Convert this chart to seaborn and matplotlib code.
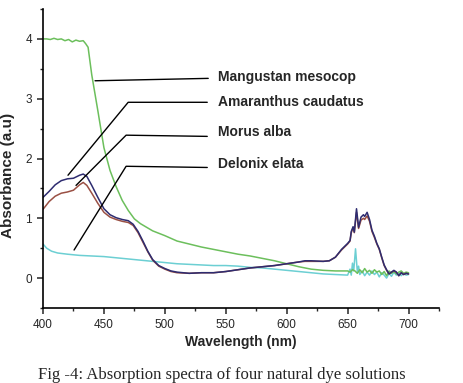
import matplotlib
matplotlib.use("Agg")
import matplotlib.pyplot as plt
import seaborn as sns
from matplotlib.ticker import MultipleLocator

# Mangustan mesocop (green)
mangustan_wl = [400, 403, 406, 409, 412, 415, 418, 421, 424, 427, 430, 433, 435, 437,
                440, 445, 450, 455, 460, 465, 470, 475, 480, 490, 500, 510, 520, 530,
                540, 550, 560, 570, 580, 590, 600, 610, 620, 630, 640, 650, 652, 654,
                656, 658, 660, 662, 664, 666, 668, 670, 672, 674, 676, 678, 680, 682,
                684, 686, 688, 690, 692, 694, 696, 698, 700]
mangustan_abs = [4.00, 4.00, 3.99, 4.01, 3.99, 4.00, 3.97, 3.99, 3.95, 3.98, 3.96, 3.97, 3.92, 3.86,
                 3.40, 2.80, 2.18, 1.80, 1.53, 1.30, 1.13, 0.99, 0.91, 0.79, 0.71, 0.62, 0.57, 0.52,
                 0.48, 0.44, 0.40, 0.37, 0.33, 0.29, 0.24, 0.19, 0.15, 0.13, 0.12, 0.12, 0.10, 0.14,
                 0.12, 0.08, 0.14, 0.09, 0.16, 0.10, 0.13, 0.08, 0.14, 0.10, 0.12, 0.06, 0.11, 0.04,
                 0.12, 0.08, 0.11, 0.07, 0.10, 0.12, 0.08, 0.10, 0.09]

# Amaranthus caudatus (navy)
amaranthus_wl = [400, 405, 410, 415, 420, 425, 430, 433, 436, 440, 445, 450, 455, 460,
                 465, 470, 474, 478, 482, 486, 490, 495, 500, 505, 510, 520, 530, 540,
                 550, 560, 570, 580, 590, 600, 610, 615, 620, 630, 635, 640, 645, 650,
                 652, 653, 654.5, 655.5, 657.3, 659, 661, 663, 664, 666, 668, 670, 672,
                 674, 676, 678, 680, 682, 684, 686, 688, 690, 692, 694, 696, 698, 700]
amaranthus_abs = [1.35, 1.45, 1.56, 1.63, 1.66, 1.67, 1.72, 1.74, 1.70, 1.55, 1.35, 1.16, 1.06, 1.01,
                  0.98, 0.96, 0.90, 0.78, 0.62, 0.45, 0.31, 0.21, 0.16, 0.12, 0.10, 0.08, 0.09, 0.09,
                  0.11, 0.14, 0.17, 0.19, 0.21, 0.24, 0.27, 0.29, 0.29, 0.28, 0.29, 0.35, 0.48, 0.58,
                  0.63, 0.78, 0.86, 0.77, 1.16, 0.85, 1.02, 1.06, 1.03, 1.10, 0.98, 0.80, 0.70,
                  0.58, 0.49, 0.35, 0.22, 0.14, 0.07, 0.10, 0.13, 0.10, 0.04, 0.09, 0.06, 0.08, 0.07]

# Morus alba (brown)
morus_wl = amaranthus_wl
morus_abs = [1.15, 1.28, 1.37, 1.42, 1.44, 1.47, 1.56, 1.60, 1.55, 1.42, 1.25, 1.10, 1.02, 0.98,
             0.95, 0.93, 0.88, 0.76, 0.60, 0.44, 0.30, 0.20, 0.15, 0.11, 0.09, 0.08, 0.09, 0.09,
             0.11, 0.14, 0.17, 0.19, 0.21, 0.24, 0.27, 0.28, 0.28, 0.28, 0.29, 0.35, 0.47, 0.57,
             0.62, 0.76, 0.84, 0.76, 1.10, 0.83, 0.97, 1.00, 0.98, 1.04, 0.95, 0.78, 0.68,
             0.57, 0.48, 0.34, 0.21, 0.13, 0.07, 0.10, 0.12, 0.10, 0.04, 0.09, 0.06, 0.08, 0.07]

# Delonix elata (cyan)
delonix_wl = [400, 403, 407, 412, 420, 430, 440, 450, 460, 470, 480, 490, 500, 510,
              520, 530, 540, 550, 560, 570, 580, 590, 600, 610, 620, 630, 640, 650,
              652, 653, 654, 655, 656.5, 658, 659, 660, 662, 664, 666, 668, 670, 672,
              674, 676, 678, 680, 682, 684, 686, 688, 690, 692, 694, 696, 698, 700]
delonix_abs = [0.57, 0.50, 0.45, 0.42, 0.40, 0.38, 0.37, 0.36, 0.34, 0.32, 0.30, 0.28, 0.26, 0.24,
               0.23, 0.22, 0.21, 0.21, 0.20, 0.18, 0.17, 0.15, 0.13, 0.11, 0.09, 0.07, 0.06, 0.05,
               0.15, 0.05, 0.25, 0.12, 0.49, 0.10, 0.20, 0.06, 0.12, 0.04, 0.10, 0.05, 0.12, 0.06,
               0.10, 0.02, 0.09, 0.05, 0.00, 0.08, 0.03, 0.10, 0.05, 0.09, 0.04, 0.08, 0.05, 0.06]

series_names = ["Mangustan mesocop", "Amaranthus caudatus", "Morus alba", "Delonix elata"]

sns.set_style("ticks")
plt.rcParams["font.family"] = ["Liberation Sans", "DejaVu Sans"]

fig = plt.figure(figsize=(4.64, 3.83), dpi=100)
ax = fig.add_axes([0.0927, 0.1958, 0.8534, 0.7807])

sns.lineplot(x=delonix_wl, y=delonix_abs, ax=ax, color="#6ccfd3", lw=1.1, sort=False)
sns.lineplot(x=mangustan_wl, y=mangustan_abs, ax=ax, color="#6cbf5c", lw=1.1, sort=False)
sns.lineplot(x=morus_wl, y=morus_abs, ax=ax, color="#9a5044", lw=1.1, sort=False)
sns.lineplot(x=amaranthus_wl, y=amaranthus_abs, ax=ax, color="#2e2c70", lw=1.1, sort=False)

# leader lines: tip on curve -> elbow -> label
tips = [(442.7, 3.30), (420.5, 1.72), (427.1, 1.55), (425.5, 0.47)]
elbows = [(442.7, 3.30), (469.9, 2.94), (468.2, 2.39), (468.2, 1.87)]
ends = [(535.6, 3.34), (534.8, 2.94), (534.8, 2.37), (534.8, 1.85)]
label_y = [3.36, 2.95, 2.44, 1.90]
for name, t, e, n, ly in zip(series_names, tips, elbows, ends, label_y):
    ax.plot([t[0], e[0], n[0]], [t[1], e[1], n[1]], color="black", lw=1.0)
    ax.text(543.5, ly, name, fontsize=10, fontweight="bold", va="center", ha="left")

ax.set_xlim(400, 725)
ax.set_ylim(-0.5, 4.5)
ax.xaxis.set_major_locator(MultipleLocator(50))
ax.xaxis.set_minor_locator(MultipleLocator(25))
ax.yaxis.set_major_locator(MultipleLocator(1))
ax.yaxis.set_minor_locator(MultipleLocator(0.5))
ax.set_xticks([400, 450, 500, 550, 600, 650, 700])
ax.tick_params(which="major", length=4.5, width=1.1, labelsize=8.5, direction="out")
ax.tick_params(which="minor", length=2.5, width=1.0, direction="out")
sns.despine(ax=ax)
for s in ["left", "bottom"]:
    ax.spines[s].set_linewidth(1.2)
    ax.spines[s].set_color("black")

ax.set_xlabel("Wavelength (nm)", fontsize=10, fontweight="bold", labelpad=3)
ax.set_ylabel("Absorbance (a.u)", fontsize=11, fontweight="bold")
ax.yaxis.set_label_coords(-0.07, 0.445)

fig.text(0.478, 0.022, "Fig -4: Absorption spectra of four natural dye solutions",
         family=["Liberation Serif", "DejaVu Serif"], fontsize=12, ha="center", va="center")

fig.savefig("out.png", dpi=100)
